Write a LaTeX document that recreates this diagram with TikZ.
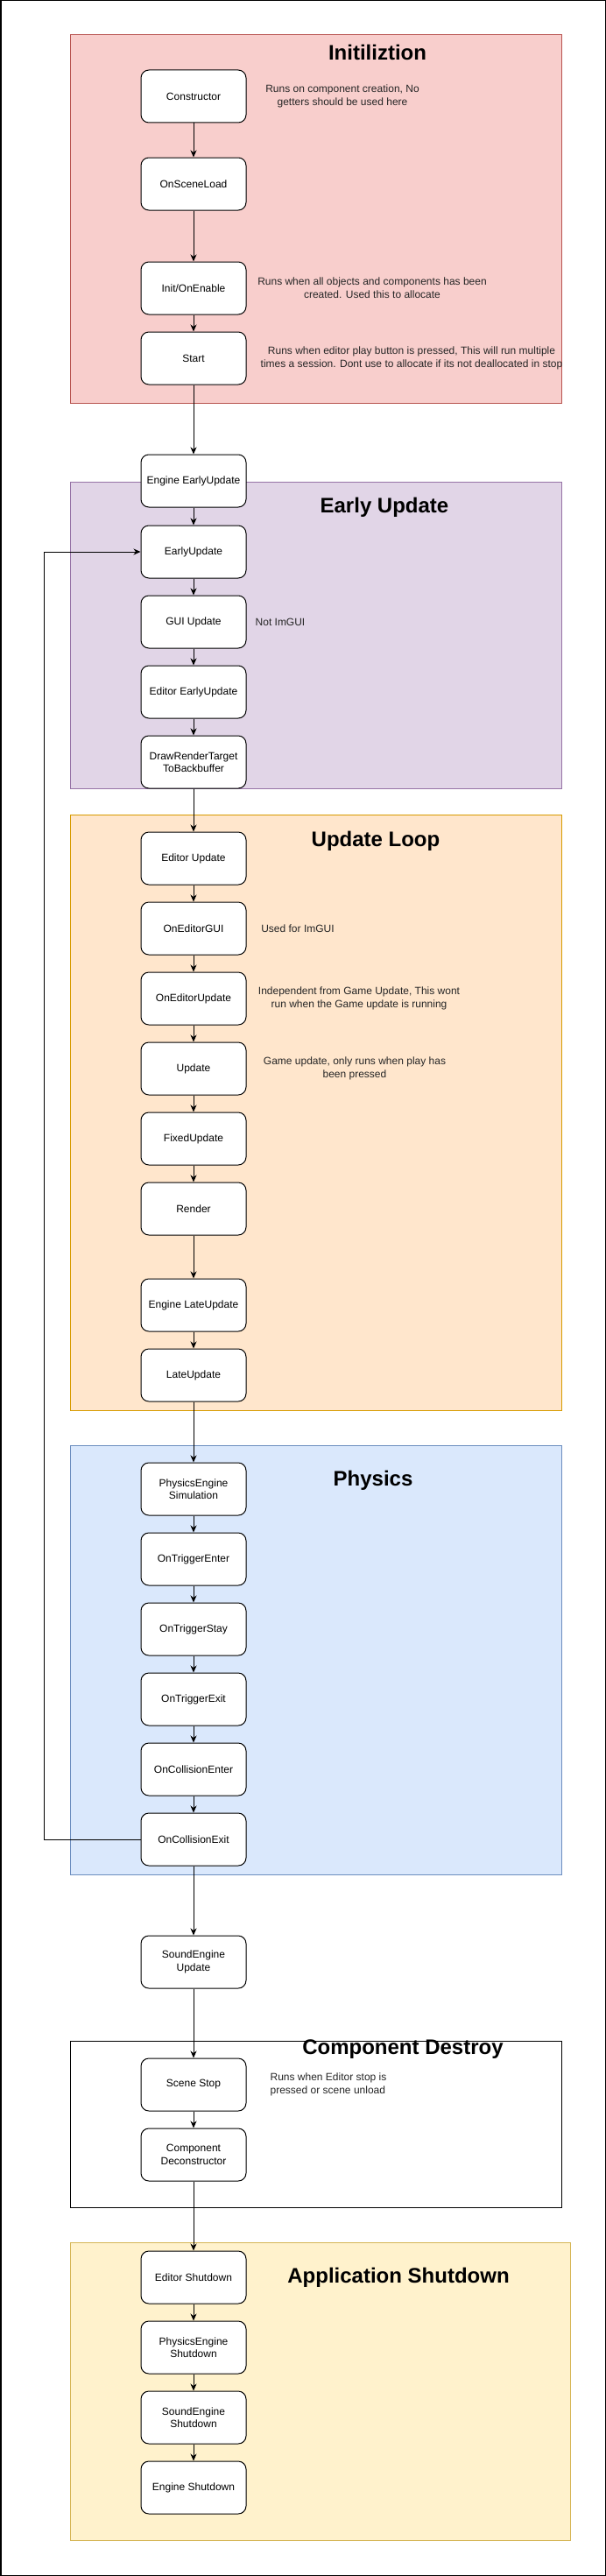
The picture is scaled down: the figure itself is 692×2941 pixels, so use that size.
\documentclass[tikz,border=0pt]{standalone}
\usepackage{fontspec}
\setmainfont{Liberation Sans}
\usetikzlibrary{arrows.meta}
\definecolor{initfill}{HTML}{F8CECC}\definecolor{initline}{HTML}{B85450}
\definecolor{earlyfill}{HTML}{E1D5E7}\definecolor{earlyline}{HTML}{9673A6}
\definecolor{updfill}{HTML}{FFE6CC}\definecolor{updline}{HTML}{D79B00}
\definecolor{physfill}{HTML}{DAE8FC}\definecolor{physline}{HTML}{6C8EBF}
\definecolor{shutfill}{HTML}{FFF2CC}\definecolor{shutline}{HTML}{D6B656}
\tikzset{
  stepbox/.style={draw=black, fill=white, line width=1pt, rounded corners=9pt,
    minimum width=120pt, minimum height=60pt, inner sep=0pt, align=center,
    font=\fontsize{12}{14.4}\selectfont},
  group/.style={line width=1pt},
  grouptitle/.style={font=\fontsize{24}{28}\selectfont\bfseries, inner sep=0pt},
  note/.style={font=\fontsize{12}{15}\selectfont, align=center, inner sep=0pt, text=black!85},
  arr/.style={line width=1pt, -{Stealth[length=8pt,width=7pt,inset=2.5pt]}},
}
\begin{document}
\begin{tikzpicture}[x=1pt,y=-1pt]
\useasboundingbox (0,0) rectangle (692,2941);
\draw[line width=1.5pt] (0.75,0.75) rectangle (691.25,2940.25);
% groups
\draw[group, fill=initfill, draw=initline] (80,40) rectangle (641,460);
\draw[group, fill=earlyfill, draw=earlyline] (80,550) rectangle (641,900);
\draw[group, fill=updfill, draw=updline] (80,930) rectangle (641,1610);
\draw[group, fill=physfill, draw=physline] (80,1650) rectangle (641,2140);
\draw[group, fill=white, draw=black] (80,2330) rectangle (641,2520);
\draw[group, fill=shutfill, draw=shutline] (80,2560) rectangle (651,2900);
% titles
\node[grouptitle] (t1) at (431,60) {Initiliztion};
\node[grouptitle] (t2) at (439,579) {Early Update};
\node[grouptitle] (t3) at (429,960) {Update Loop};
\node[grouptitle] (t4) at (426,1690) {Physics};
\node[grouptitle] (t5) at (460,2340) {Component Destroy};
\node[grouptitle] (t6) at (455,2600) {Application Shutdown};
% nodes
\node[stepbox] (ctor) at (221,110) {Constructor};
\node[stepbox] (osl) at (221,210) {OnSceneLoad};
\node[stepbox] (init) at (221,329) {Init/OnEnable};
\node[stepbox] (start) at (221,409) {Start};
\node[stepbox] (eeu) at (221,549) {Engine EarlyUpdate};
\node[stepbox] (eu) at (221,630) {EarlyUpdate};
\node[stepbox] (gui) at (221,710) {GUI Update};
\node[stepbox] (edeu) at (221,790) {Editor EarlyUpdate};
\node[stepbox] (drt) at (221,870) {DrawRenderTarget\\ToBackbuffer};
\node[stepbox] (edu) at (221,980) {Editor Update};
\node[stepbox] (oeg) at (221,1060) {OnEditorGUI};
\node[stepbox] (oeu) at (221,1140) {OnEditorUpdate};
\node[stepbox] (upd) at (221,1220) {Update};
\node[stepbox] (fix) at (221,1300) {FixedUpdate};
\node[stepbox] (ren) at (221,1380) {Render};
\node[stepbox] (elu) at (221,1490) {Engine LateUpdate};
\node[stepbox] (lu) at (221,1570) {LateUpdate};
\node[stepbox] (pes) at (221,1700) {PhysicsEngine\\Simulation};
\node[stepbox] (ote) at (221,1780) {OnTriggerEnter};
\node[stepbox] (ots) at (221,1860) {OnTriggerStay};
\node[stepbox] (otx) at (221,1940) {OnTriggerExit};
\node[stepbox] (oce) at (221,2020) {OnCollisionEnter};
\node[stepbox] (ocx) at (221,2100) {OnCollisionExit};
\node[stepbox] (seu) at (221,2240) {SoundEngine\\Update};
\node[stepbox] (ss) at (221,2380) {Scene Stop};
\node[stepbox] (cd) at (221,2460) {Component\\Deconstructor};
\node[stepbox] (esd) at (221,2600) {Editor Shutdown};
\node[stepbox] (psd) at (221,2680) {PhysicsEngine\\Shutdown};
\node[stepbox] (ssd) at (221,2760) {SoundEngine\\Shutdown};
\node[stepbox] (engsd) at (221,2840) {Engine Shutdown};
% notes
\node[note] (n1) at (391,110) {Runs on component creation, No\\getters should be used here};
\node[note] (n2) at (425,329) {Runs when all objects and components has been\\created. Used this to allocate};
\node[note] (n3) at (470,409) {Runs when editor play button is pressed, This will run multiple\\times a session. Dont use to allocate if its not deallocated in stop};
\node[note] (n4) at (320,710) {Not ImGUI};
\node[note] (n5) at (340,1060) {Used for ImGUI};
\node[note] (n6) at (410,1140) {Independent from Game Update, This wont\\run when the Game update is running};
\node[note] (n7) at (405,1220) {Game update, only runs when play has\\been pressed};
\node[note, align=left] (n8) at (375,2380) {Runs when Editor stop is\\pressed or scene unload};
% connectors
\foreach \a/\b in {ctor/osl, osl/init, init/start, start/eeu, eeu/eu, eu/gui, gui/edeu, edeu/drt,
  drt/edu, edu/oeg, oeg/oeu, oeu/upd, upd/fix, fix/ren, ren/elu, elu/lu, lu/pes,
  pes/ote, ote/ots, ots/otx, otx/oce, oce/ocx, ocx/seu, seu/ss, ss/cd, cd/esd,
  esd/psd, psd/ssd, ssd/engsd}
  \draw[arr] (\a.south) -- (\b.north);
\coordinate (loopx) at (50,0);
\draw[arr] (ocx.west) -- (ocx.west -| loopx) |- (eu.west);
\end{tikzpicture}
\end{document}
